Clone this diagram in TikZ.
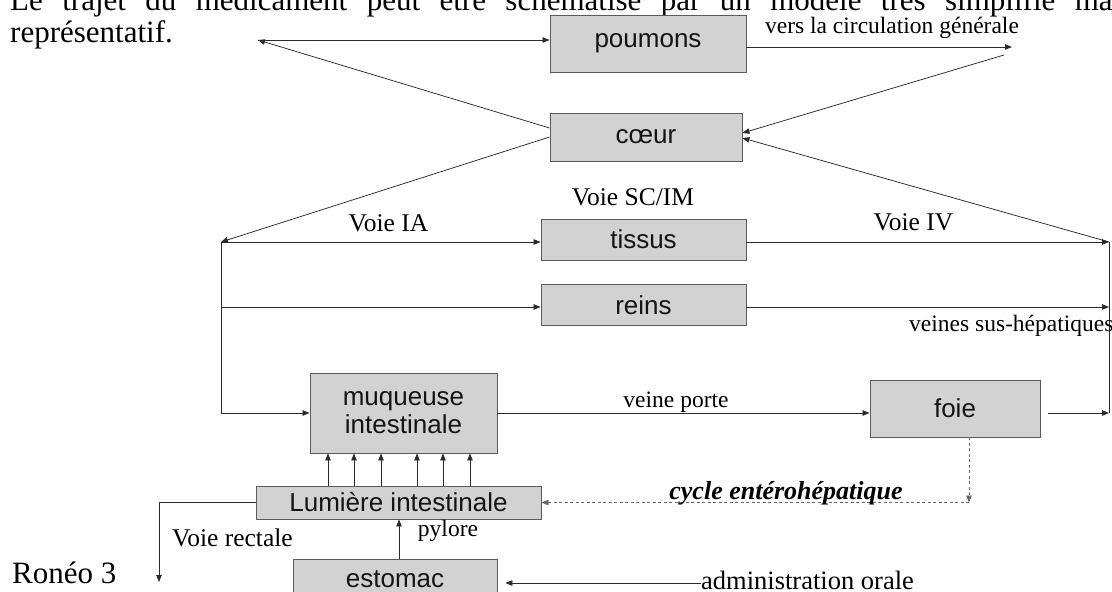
\documentclass[tikz,border=0pt]{standalone}
\usepackage{fontspec}
\setmainfont{Liberation Serif}
\newfontfamily\boxfont{Liberation Sans}
\usetikzlibrary{arrows.meta}
\definecolor{boxfill}{HTML}{D2D2D2}
\definecolor{boxline}{HTML}{5A5A5A}
\definecolor{lnc}{HTML}{2A2A2A}
\begin{document}
\begin{tikzpicture}[x=1pt,y=-1pt,
  box/.style={draw=boxline, fill=boxfill, line width=0.9pt, inner sep=0pt,
    font=\boxfont\fontsize{26}{29}\selectfont, align=center, text=black!92},
  conn/.style={draw=lnc, line width=0.75pt},
  arr/.style={conn, -{Triangle[length=7pt,width=5.5pt]}},
  dsh/.style={arr, draw=black!60, dash pattern=on 3pt off 2.5pt},
  lbl/.style={inner sep=0pt, anchor=base, font=\fontsize{23.5}{26}\selectfont},
  lblb/.style={inner sep=0pt, anchor=base, font=\fontsize{25.5}{28}\selectfont},
  big/.style={inner sep=0pt, anchor=base west, font=\fontsize{31}{33}\selectfont}
]
\useasboundingbox (0,0) rectangle (1112,592);
\clip (0,0) rectangle (1112,592);

% body text
\node[big] (l1) at (10,10) {\makebox[1123pt][s]{Le trajet du médicament peut être schématisé par un modèle très simplifié mais}};
\node[big] (l2) at (10,42) {représentatif.};
\node[big] (roneo) at (12,583) {Ronéo 3};

% boxes
\node[box, minimum width=196pt, minimum height=57pt] (poumons) at (648,43.5) {poumons};
\node[box, minimum width=192pt, minimum height=48pt] (coeur) at (646,137) {cœur};
\node[box, minimum width=205pt, minimum height=41pt] (tissus) at (643.5,239.5) {tissus};
\node[box, minimum width=205pt, minimum height=41pt] (reins) at (643.5,305) {reins};
\node[box, minimum width=187pt, minimum height=80pt] (muq) at (403.5,413) {muqueuse\\[-1pt]intestinale};
\node[box, minimum width=170pt, minimum height=57pt] (foie) at (955,408.5) {foie};
\node[box, minimum width=285pt, minimum height=33pt] (lum) at (398.5,502.5) {Lumière intestinale};
\node[box, minimum width=204pt, minimum height=40pt] (estomac) at (395,579) {estomac};

% coordinates
\coordinate (pl) at (258,40);
\coordinate (pr) at (1012,47);
\coordinate (pr2) at (1004,55);
\coordinate (lc) at (221,242);
\coordinate (lr) at (221,307);
\coordinate (lb) at (221,413);
\coordinate (rc) at (1109,242);
\coordinate (rr) at (1109,307);
\coordinate (fr) at (1109,413);
\coordinate (dc) at (969,502.5);
\coordinate (py) at (399,0);
\coordinate (vr1) at (159,502.5);
\coordinate (vr2) at (159,582);
\coordinate (ao) at (701,583);

% connectors
\draw[arr] ([yshift=9pt]coeur.west) -- (pl);
\draw[arr] (pl) -- (pl -| poumons.west);
\draw[arr] ([yshift=-3.5pt]poumons.east) -- (pr);
\draw[arr] (pr2) -- ([yshift=4pt]coeur.east);
\draw[arr] (coeur.west) -- (lc);
\draw[arr] (lc) -- (lc -| tissus.west);
\draw[arr] (lr) -- (lr -| reins.west);
\draw[arr] (lc) -- (lb) -- (muq.west);
\draw[arr] (lc -| tissus.east) -- (rc);
\draw[arr] (lr -| reins.east) -- (rr);
\draw[arr] (rc) -- ([yshift=-1pt]coeur.east);
\draw[conn] (rc) -- (fr);
\draw[arr] (muq.east) -- (muq.east -| foie.west);
\draw[arr, shorten <=8pt] (fr -| foie.east) -- (fr);
\draw[dsh] (dc |- foie.south) -- (dc);
\draw[dsh] (dc) -- (lum.east);
\foreach \xx in {328,354,381,417,443,470} {
  \coordinate (tx) at (\xx,0);
  \draw[arr] (tx |- lum.north) -- (tx |- muq.south);
}
\draw[arr] (py |- estomac.north) -- (py |- lum.south);
\draw[arr] (lum.west) -- (vr1) -- (vr2);
\draw[arr, shorten >=8pt] (ao) -- (ao -| estomac.east);

% labels
\node[lbl] (tcirc) at (892,33) {vers la circulation générale};
\node[lblb] (tsc) at (633,205) {Voie SC/IM};
\node[lblb] (tia) at (388.5,231) {Voie IA};
\node[lblb] (tiv) at (913.5,230) {Voie IV};
\node[lbl, anchor=base west] (tvsh) at (909,331) {veines sus-hépatiques};
\node[lbl] (tvp) at (676,407) {veine porte};
\node[inner sep=0pt, anchor=base, font=\fontsize{26}{28}\selectfont\bfseries\itshape] (tcyc) at (786,499) {cycle entérohépatique};
\node[lblb] (trect) at (232.5,546) {Voie rectale};
\node[lbl] (tpyl) at (448,536) {pylore};
\node[inner sep=0pt, anchor=base west, font=\fontsize{26.5}{28}\selectfont] (tadm) at (701,589) {administration orale};
\end{tikzpicture}
\end{document}
